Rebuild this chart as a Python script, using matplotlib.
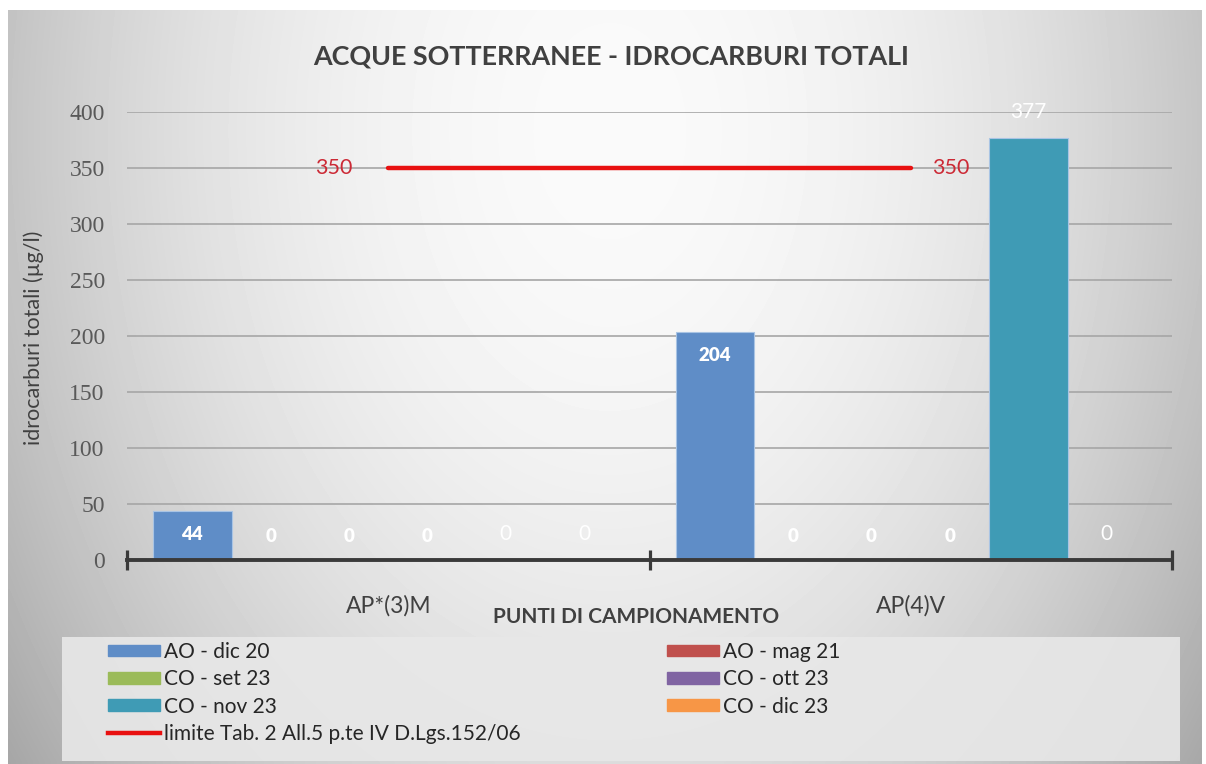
import numpy as np
import matplotlib
matplotlib.use("Agg")
import matplotlib.pyplot as plt
from matplotlib.patches import Patch, Rectangle
from matplotlib.lines import Line2D

# data
categories = ["AP*(3)M", "AP(4)V"]
series_names = ["AO - dic 20", "AO - mag 21", "CO - set 23",
                "CO - ott 23", "CO - nov 23", "CO - dic 23"]
series_values = [[44, 204], [0, 0], [0, 0], [0, 0], [0, 377], [0, 0]]
series_colors = ["#5f8dc7", "#c0504d", "#9bbb59", "#8064a2", "#3f9bb5", "#f79646"]
# label placement used by Excel for each series
label_inside = [True, True, True, True, False, False]

limit_value = 350
limit_name = "limite Tab. 2 All.5 p.te IV D.Lgs.152/06"

title = "ACQUE SOTTERRANEE - IDROCARBURI TOTALI"
ylabel = "idrocarburi totali (\u00b5g/l)"
xlabel = "PUNTI DI CAMPIONAMENTO"
yticks = [0, 50, 100, 150, 200, 250, 300, 350, 400]

sans = ["Lato", "DejaVu Sans"]
W, H = 1206, 764

fig = plt.figure(figsize=(W / 100, H / 100), dpi=100)
fig.patch.set_facecolor("white")

# gradient background of the chart area
bg = fig.add_axes([0, 0, 1, 1], zorder=-10)
gx, gy = np.meshgrid(np.linspace(8, 1202, 300), np.linspace(10, 764, 200))
r = np.sqrt(((gx - 610) / 600) ** 2 + ((gy - 130) / 850) ** 2)
shade = 0.98 - 0.21 * r ** 2
bg.imshow(shade, extent=(8, 1202, 764, 10), cmap="gray", vmin=0, vmax=1,
          aspect="auto", interpolation="bilinear")
bg.add_patch(Rectangle((62, 637), 1118, 124, facecolor="#e8e8e8",
                       edgecolor="none", alpha=0.9))
bg.set_xlim(0, W)
bg.set_ylim(H, 0)
bg.axis("off")

ax = fig.add_axes([127 / W, 1 - 560 / H, 1045 / W, 448 / H])
ax.patch.set_alpha(0)

n = len(series_names)
w = 0.15
x = np.arange(len(categories))
for i in range(n):
    xs = x + (i - (n - 1) / 2) * w
    vals = series_values[i]
    ax.bar(xs, vals, width=w, color=series_colors[i], edgecolor="#a9c4e4",
           linewidth=0.8, zorder=3)
    for xx, v in zip(xs, vals):
        if label_inside[i]:
            dy = -24 if v > 0 else 24
            ax.annotate(str(v), (xx, v), xytext=(0, dy), textcoords="offset pixels",
                        ha="center", va="center", color="white", fontsize=13.5,
                        fontweight="heavy", family=sans, zorder=5)
        else:
            ax.annotate(str(v), (xx, v), xytext=(0, 26), textcoords="offset pixels",
                        ha="center", va="center", color="white", fontsize=15,
                        family=sans, zorder=5, annotation_clip=False)

# limit line between the two category centres
ax.plot(x, [limit_value] * len(x), color="#e81010", linewidth=3.2, zorder=4,
        solid_capstyle="round")
ax.annotate(str(limit_value), (x[0], limit_value), xytext=(-54, 0),
            textcoords="offset pixels", ha="center", va="center",
            color="#cc2a36", fontsize=15.5, family=sans)
ax.annotate(str(limit_value), (x[-1], limit_value), xytext=(40, 0),
            textcoords="offset pixels", ha="center", va="center",
            color="#cc2a36", fontsize=15.5, family=sans)

ax.set_xlim(-0.5, len(categories) - 0.5)
ax.set_ylim(0, 400)
ax.set_yticks(yticks)
ax.set_yticklabels([str(t) for t in yticks], family="Liberation Serif",
                   fontsize=17, color="#595959")
ax.tick_params(axis="y", length=0, pad=16)
ax.grid(axis="y", color="#a6a6a6", linewidth=1.2, zorder=0)

ax.set_xticks(np.arange(len(categories) + 1) - 0.5)
ax.set_xticklabels([])
ax.tick_params(axis="x", which="major", direction="inout", length=15,
               width=2.3, color="#3a3a3a")
ax.set_xticks(x, minor=True)
ax.set_xticklabels(categories, minor=True, family=sans, fontsize=16.5,
                   color="#404040")
ax.tick_params(axis="x", which="minor", length=0, pad=25)

for s in ["left", "right", "top"]:
    ax.spines[s].set_visible(False)
ax.spines["bottom"].set_color("#3a3a3a")
ax.spines["bottom"].set_linewidth(2.8)
ax.spines["bottom"].set_zorder(4)

ax.set_xlabel(xlabel, family=sans, fontsize=15, fontweight="bold", color="#404040")
ax.xaxis.set_label_coords((636 - 127) / 1045, -0.106)
ax.set_ylabel(ylabel, family=sans, fontsize=15.5, color="#404040")
ax.yaxis.set_label_coords(-0.079, 0.495)

fig.text(611 / W, 1 - 57 / H, title, ha="center", va="center", fontsize=19.4,
         fontweight="bold", color="#404040", family=sans)

# legend, Excel fills rows, matplotlib fills columns
handles = [Patch(color=c) for c in series_colors]
line_h = Line2D([], [], color="#e81010", linewidth=3.2)
order = [0, 2, 4, None, 1, 3, 5]
leg_handles, leg_labels = [], []
for k in order:
    if k is None:
        leg_handles.append(line_h)
        leg_labels.append(limit_name)
    else:
        leg_handles.append(handles[k])
        leg_labels.append(series_names[k])
leg = fig.legend(leg_handles, leg_labels, loc="upper left",
                 bbox_to_anchor=(108 / W, 1 - 642 / H), ncol=2, frameon=False,
                 borderaxespad=0, borderpad=0, handlelength=2.5,
                 handleheight=0.48, handletextpad=0.2, labelspacing=0.35,
                 columnspacing=7.0, prop={"family": sans, "size": 15})
for t in leg.get_texts():
    t.set_color("#262626")

fig.savefig("out.png", dpi=100)
